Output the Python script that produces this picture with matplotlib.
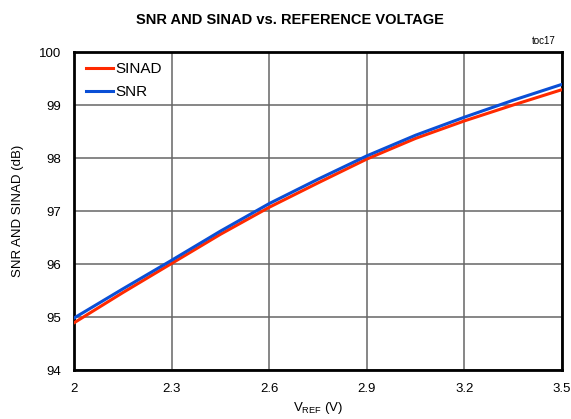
import matplotlib
matplotlib.use("Agg")
import matplotlib.pyplot as plt

plt.rcParams['font.family'] = ['Liberation Sans', 'DejaVu Sans']

vref = [2.0, 2.15, 2.3, 2.45, 2.6, 2.75, 2.9, 3.05, 3.2, 3.35, 3.5]
snr = [94.98, 95.53, 96.07, 96.62, 97.14, 97.60, 98.04, 98.43, 98.77, 99.09, 99.39]
sinad = [94.89, 95.46, 96.01, 96.56, 97.07, 97.53, 97.98, 98.37, 98.70, 99.00, 99.29]
xticks = [2, 2.3, 2.6, 2.9, 3.2, 3.5]
xticklabels = ["2", "2.3", "2.6", "2.9", "3.2", "3.5"]
yticks = [94, 95, 96, 97, 98, 99, 100]

fig = plt.figure(figsize=(5.71, 4.19), dpi=100)
ax = fig.add_axes([74/571, 1-370/419, 488/571, 318/419])

ax.plot(vref, sinad, color='#FF2A00', lw=2.2, label='SINAD', zorder=3)
ax.plot(vref, snr, color='#0A4FD6', lw=2.2, label='SNR', zorder=4)

ax.set_xlim(2, 3.5)
ax.set_ylim(94, 100)
ax.set_xticks(xticks)
ax.set_xticklabels(xticklabels)
ax.set_yticks(yticks)
ax.tick_params(length=0, labelsize=9.5, pad=9)
ax.grid(True, color='#666666', lw=1.1)
for s in ax.spines.values():
    s.set_linewidth(2)
    s.set_color('black')

ax.set_xlabel(r'V$_{\mathregular{REF}}$ (V)', fontsize=9.5, labelpad=4)
ax.set_ylabel('SNR AND SINAD (dB)', fontsize=9.5, labelpad=11)
fig.text(290/571, 1-19.5/419, 'SNR AND SINAD vs. REFERENCE VOLTAGE', ha='center', va='center',
         fontsize=10.5, fontweight='bold')
fig.text(556/571, 1-41/419, 'toc17', ha='right', va='center', fontsize=7)

leg = ax.legend(loc='upper left', frameon=False, fontsize=11, handlelength=1.77,
                handletextpad=0.13, borderpad=0, borderaxespad=0,
                bbox_to_anchor=(12/488, 1 - 10/318), labelspacing=0.6)

fig.savefig('out.png', dpi=100)
